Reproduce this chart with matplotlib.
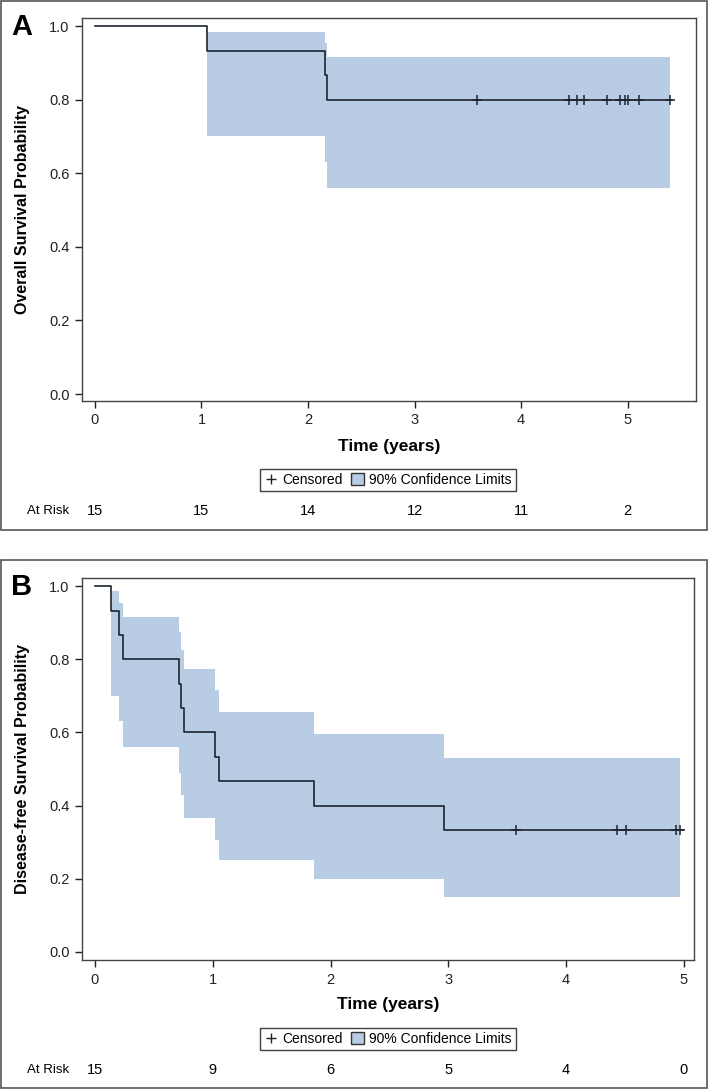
import matplotlib
matplotlib.use("Agg")
import matplotlib.pyplot as plt
import matplotlib.transforms as mtransforms
from matplotlib.patches import Rectangle, Patch
from matplotlib.lines import Line2D

plt.rcParams['font.family'] = ['Liberation Sans', 'DejaVu Sans']

# ---- panel A: overall survival ----
a_time = [0, 1.05, 2.16, 2.18, 5.42]
a_surv = [1.0, 0.933, 0.867, 0.8, 0.8]
a_cens = [3.59, 4.45, 4.53, 4.59, 4.81, 4.93, 4.98, 5.00, 5.11, 5.40]
a_band_t = [1.05, 2.16, 2.18, 5.40]
a_upper = [0.985, 0.955, 0.917, 0.917]
a_lower = [0.70, 0.63, 0.56, 0.56]
a_risk = [15, 15, 14, 12, 11, 2]

# ---- panel B: disease-free survival ----
b_time = [0, 0.133, 0.206, 0.24, 0.716, 0.733, 0.758, 1.019, 1.055, 1.857, 2.96, 4.99]
b_surv = [1.0, 0.933, 0.867, 0.8, 0.733, 0.667, 0.6, 0.533, 0.467, 0.4, 0.333, 0.333]
b_cens = [3.57, 4.43, 4.51, 4.93, 4.97]
b_band_t = [0.133, 0.206, 0.24, 0.716, 0.733, 0.758, 1.019, 1.055, 1.857, 2.96, 4.97]
b_upper = [0.986, 0.955, 0.916, 0.874, 0.825, 0.772, 0.716, 0.657, 0.595, 0.53, 0.53]
b_lower = [0.70, 0.63, 0.56, 0.49, 0.43, 0.365, 0.305, 0.25, 0.20, 0.15, 0.15]
b_risk = [15, 9, 6, 5, 4, 0]

risk_times = [0, 1, 2, 3, 4, 5]
band_col = '#b8cce4'
line_col = '#1c2530'

W, H = 708, 1090
fig = plt.figure(figsize=(W / 100, H / 100), dpi=100)


def fx(px):
    return px / W


def fy(py):
    return 1 - py / H


def panel(top, bottom, left, right, tm, sv, cens, bt, up, lo, risk, xlim, ylim,
          letter, ylabel, box_top, box_bot):
    # outer box of the panel
    fig.patches.append(Rectangle((fx(0.5), fy(box_bot)), fx(706), (box_bot - box_top) / H,
                                 transform=fig.transFigure, fill=False,
                                 edgecolor='#555555', lw=1.2))
    ax = fig.add_axes([fx(left), fy(bottom), fx(right - left), (bottom - top) / H])
    ax.fill_between(bt, lo, up, step='post', color=band_col, lw=0)
    ax.plot(tm, sv, drawstyle='steps-post', color=line_col, lw=1.2)
    cy = [sv[max(i for i, t in enumerate(tm) if t <= c)] for c in cens]
    ax.plot(cens, cy, ls='none', marker='+', ms=7, mew=1.1, color=line_col)
    ax.set_xlim(*xlim)
    ax.set_ylim(*ylim)
    ax.set_xticks(risk_times)
    ax.set_yticks([0, 0.2, 0.4, 0.6, 0.8, 1.0])
    ax.set_yticklabels(['0.0', '0.2', '0.4', '0.6', '0.8', '1.0'])
    ax.tick_params(direction='out', length=5, width=1, labelsize=10.5,
                   colors='#222222', pad=4)
    for s in ax.spines.values():
        s.set_color('#444444')
        s.set_linewidth(1)

    fig.text(fx(22), fy(top + 9), letter, fontsize=21, fontweight='bold',
             ha='center', va='center')
    fig.text(fx(23), fy((top + bottom) / 2), ylabel, rotation=90, fontsize=11.5,
             fontweight='bold', ha='center', va='center')
    fig.text(fx((left + right) / 2), fy(bottom + 45), 'Time (years)', fontsize=12.5,
             fontweight='bold', ha='center', va='center')

    handles = [Line2D([], [], ls='none', marker='+', ms=7, mew=1, color='#222222'),
               Patch(facecolor=band_col, edgecolor='#333333', lw=1)]
    leg = fig.legend(handles, ['Censored', '90% Confidence Limits'], ncol=2,
                     loc='center', bbox_to_anchor=(fx(388), fy(bottom + 79)),
                     fontsize=10, frameon=True, fancybox=False, handlelength=0.9,
                     handletextpad=0.4, columnspacing=0.6, borderpad=0.3,
                     handleheight=0.9)
    leg.get_frame().set_edgecolor('#111111')
    leg.get_frame().set_linewidth(1)

    trans = mtransforms.blended_transform_factory(ax.transData, fig.transFigure)
    fig.text(fx(27), fy(bottom + 110), 'At Risk', fontsize=9.5, ha='left', va='center')
    for t, n in zip(risk_times, risk):
        ax.text(t, fy(bottom + 110), str(n), transform=trans, fontsize=10.5,
                ha='center', va='center', clip_on=False)
    return ax


panel(18, 401, 82, 696, a_time, a_surv, a_cens, a_band_t, a_upper, a_lower,
      a_risk, (-0.122, 5.643), (-0.019, 1.022), 'A', 'Overall Survival Probability', 1, 530)
panel(578, 960, 82, 694, b_time, b_surv, b_cens, b_band_t, b_upper, b_lower,
      b_risk, (-0.11, 5.085), (-0.022, 1.022), 'B', 'Disease-free Survival Probability', 560, 1088)

fig.savefig('out.png', dpi=100)
